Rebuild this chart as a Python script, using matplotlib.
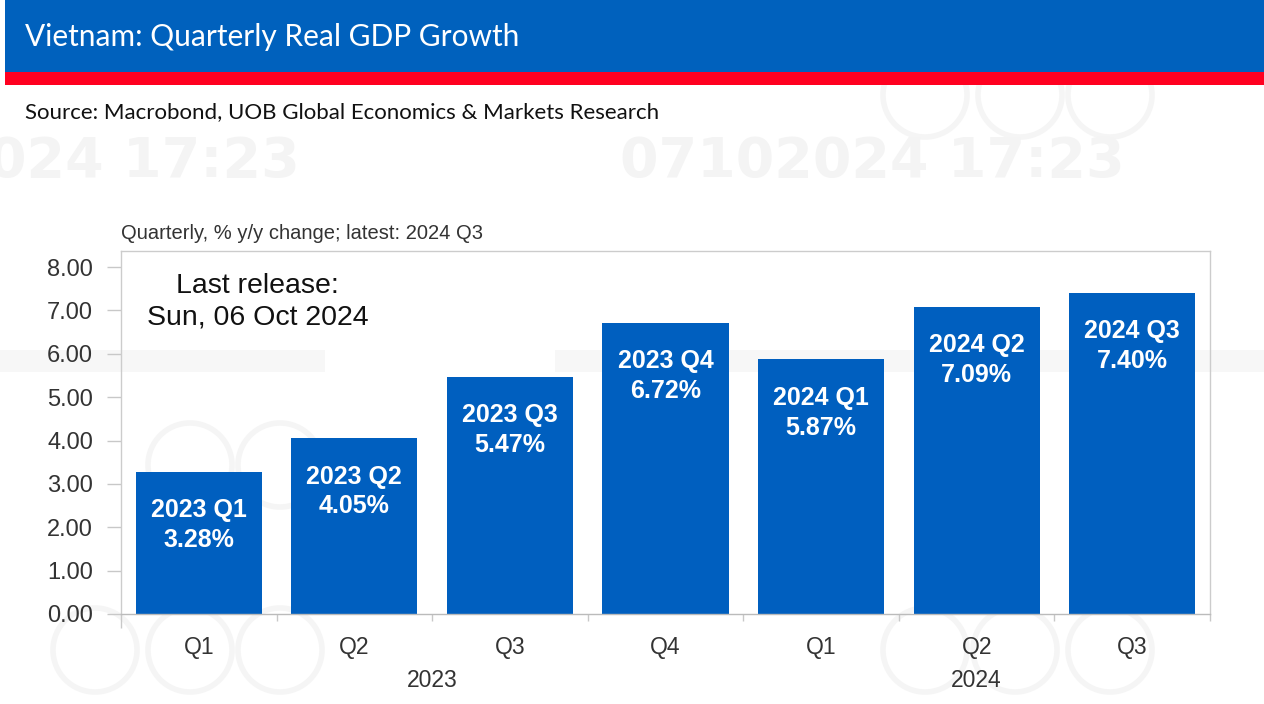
import matplotlib
matplotlib.use("Agg")
import matplotlib.pyplot as plt
from matplotlib.patches import Rectangle, Circle

# ===== データ =====
quarters = ["Q1", "Q2", "Q3", "Q4", "Q1", "Q2", "Q3"]
years = ["2023", "2023", "2023", "2023", "2024", "2024", "2024"]
gdp_growth = [3.28, 4.05, 5.47, 6.72, 5.87, 7.09, 7.40]
yticks = [0, 1, 2, 3, 4, 5, 6, 7, 8]

TITLE = "Vietnam: Quarterly Real GDP Growth"
SOURCE = "Source: Macrobond, UOB Global Economics & Markets Research"
SUBTITLE = "Quarterly, % y/y change; latest: 2024 Q3"
RELEASE = "Last release:\nSun, 06 Oct 2024"

BLUE = "#0061bd"
BAR_BLUE = "#005fbf"
RED = "#ff0020"
TEXT = "#333333"

W, H = 1264, 704
fig = plt.figure(figsize=(W / 100, H / 100), dpi=100)
fig.patch.set_facecolor("white")


def fx(px):
    return px / W


def fy(py):
    return 1 - py / H


# --- 透かし (薄いグレー) ---
wm = dict(color="#f4f4f4", fontsize=40, fontweight="bold", family="DejaVu Sans",
          va="center", ha="left", zorder=-2)
fig.text(fx(-12), fy(162), "024 17:23", **wm)
fig.text(fx(620), fy(162), "07102024 17:23", **wm)
for x0, w0 in [(0, 325), (555, 709)]:
    fig.patches.append(Rectangle((fx(x0), fy(372)), fx(w0), 22 / H, transform=fig.transFigure,
                                 facecolor="#f7f7f7", edgecolor="none", zorder=-2))
ring_centres = [(95, 650), (190, 650), (280, 650), (925, 650), (1015, 650), (1110, 650),
                (190, 465), (280, 465), (925, 95), (1020, 95), (1110, 95)]
for cx, cy in ring_centres:
    fig.patches.append(Circle((cx, H - cy), 42, transform=None, facecolor="none",
                              edgecolor="#f5f5f5", linewidth=4, zorder=-2))

# --- ヘッダー ---
fig.patches.append(Rectangle((fx(5), fy(72)), 1 - fx(5), 72 / H, transform=fig.transFigure,
                             facecolor=BLUE, edgecolor="none", zorder=-1))
fig.patches.append(Rectangle((fx(5), fy(85)), 1 - fx(5), 13 / H, transform=fig.transFigure,
                             facecolor=RED, edgecolor="none", zorder=-1))
fig.text(fx(25), fy(37), TITLE, color="white", fontsize=21.5, family="Lato",
         va="center", ha="left", zorder=2)
fig.text(fx(25), fy(112), SOURCE, color="#111111", fontsize=16, family="Lato",
         va="center", ha="left")

# --- グラフ本体 ---
ax = fig.add_axes([fx(121), fy(614), fx(1210) - fx(121), fy(251) - fy(614)])
ax.set_zorder(1)
ax.patch.set_alpha(0)
x = list(range(len(gdp_growth)))
ax.bar(x, gdp_growth, width=0.81, color=BAR_BLUE, zorder=2)

for xi, v, q, yr in zip(x, gdp_growth, quarters, years):
    ax.annotate(f"{yr} {q}\n{v:.2f}%", (xi, v), xytext=(0, -19), textcoords="offset points",
                ha="center", va="top", color="white", fontsize=18, fontweight="bold",
                family="Liberation Sans", linespacing=1.3, zorder=3)

ax.set_xlim(-0.5, len(x) - 0.5)
ax.set_ylim(0, 8.37)
ax.set_yticks(yticks)
ax.set_yticklabels([f"{t:.2f}" for t in yticks], fontsize=17, color=TEXT,
                   family="Liberation Sans")
ax.tick_params(axis="y", length=10, width=1, color="#c8c8c8", pad=10)

ax.set_xticks([i + 0.5 for i in x])
ax.set_xticklabels([])
ax.set_xticks([-0.5], minor=True)
ax.tick_params(axis="x", which="major", length=5, width=1, color="#c8c8c8")
ax.tick_params(axis="x", which="minor", length=10, width=1, color="#c8c8c8")

for xi, q in zip(x, quarters):
    ax.text(xi, -0.77, q, ha="center", va="center", fontsize=16.5, color=TEXT,
            family="Liberation Sans", clip_on=False)
ax.text(1.5, -1.53, "2023", ha="center", va="center", fontsize=16.5, color=TEXT,
        family="Liberation Sans", clip_on=False)
ax.text(5.0, -1.53, "2024", ha="center", va="center", fontsize=16.5, color=TEXT,
        family="Liberation Sans", clip_on=False)

for s in ax.spines.values():
    s.set_color("#cccccc")
    s.set_linewidth(1)
ax.spines["bottom"].set_color("#bbbbbb")

ax.text(-0.5, 8.77, SUBTITLE, fontsize=14.5, color=TEXT,
        family="Liberation Sans", ha="left", va="center", clip_on=False)
ax.text(0.38, 7.2, RELEASE, fontsize=20.5, color="#111111", family="Liberation Sans",
        ha="center", va="center", linespacing=1.25)

fig.savefig("out.png", dpi=100)
